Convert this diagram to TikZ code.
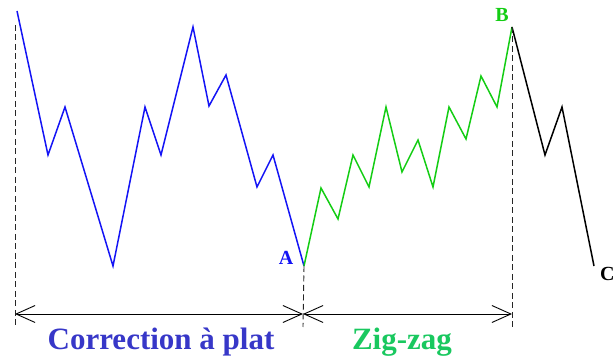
\documentclass[tikz,border=0pt]{standalone}
\usepackage{fontspec}
\setmainfont{Liberation Serif}
\usepackage{xcolor}
\usetikzlibrary{arrows.meta}

\definecolor{waveblue}{RGB}{20,20,245}
\definecolor{wavegreen}{RGB}{20,205,20}
\definecolor{textblue}{RGB}{55,55,200}
\definecolor{textgreen}{RGB}{25,200,95}

\begin{document}
\begin{tikzpicture}[x=1pt,y=-1pt]
\tikzstyle{leg} = [line width=1.5pt, line join=miter]
\tikzstyle{guide} = [black!85, line width=0.9pt, dash pattern=on 6pt off 3.5pt]
\tikzstyle{span} = [line width=0.9pt, {Straight Barb[length=19pt,width=17pt]}-{Straight Barb[length=19pt,width=17pt]}]
\tikzstyle{caption} = [font=\bfseries\fontsize{31}{36}\selectfont, inner sep=0pt, anchor=base]
\tikzstyle{point} = [font=\bfseries\fontsize{20}{24}\selectfont, inner sep=0pt]

\useasboundingbox (0,0) rectangle (616,363);

% turning points of the wave
\coordinate (start) at (17,11);
\coordinate (A) at (304,266);
\coordinate (B) at (512,27);
\coordinate (C) at (594,266);

% feet of the guide lines
\coordinate (ltop) at (15,25);
\coordinate (lbot) at (15,327);
\coordinate (mbot) at (303,327);
\coordinate (rbot) at (512,327);
\coordinate (lmid) at (15,314);
\coordinate (mmid) at (303,314);
\coordinate (rmid) at (512,314);

\draw [leg, waveblue] (start) -- (48,155) -- (65,107) -- (113,266) -- (145,107) -- (161,155)
  -- (193,27) -- (209,106) -- (226,75) -- (257,187) -- (273,155) -- (A);
\draw [leg, wavegreen] (A) -- (321,188) -- (338,219) -- (353,155) -- (369,187) -- (386,107)
  -- (402,172) -- (418,140) -- (433,187) -- (449,107) -- (466,139) -- (481,76) -- (497,107) -- (B);
\draw [leg, black] (B) -- (545,155) -- (562,107) -- (C);

\draw [guide] (ltop) -- (lbot);
\draw [guide] (A) -- (mbot);
\draw [guide] (B) -- (rbot);

\draw [span] (lmid) -- (mmid);
\draw [span] (mmid) -- (rmid);

\node (labA) [point, waveblue] at (286,258) {A};
\node (labB) [point, wavegreen] at (502,15) {B};
\node (labC) [point, black, anchor=west] at (600,274) {C};

\node (corr) [caption, textblue] at (161,350) {Correction à plat};
\node (zigzag) [caption, textgreen] at (402,350) {Zig-zag};
\end{tikzpicture}
\end{document}
